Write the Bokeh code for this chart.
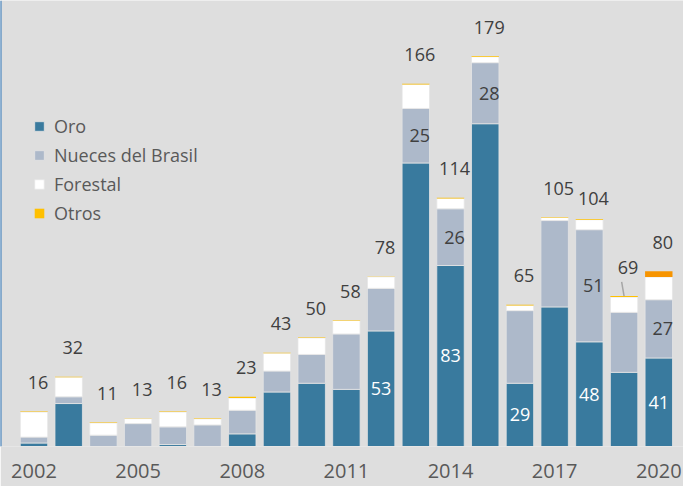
from bokeh.plotting import figure
from bokeh.models import ColumnDataSource, Legend, LegendItem, FixedTicker, Span
from bokeh.core.properties import value
from bokeh.embed import file_html
from bokeh.resources import INLINE

years = [2002, 2003, 2004, 2005, 2006, 2007, 2008, 2009, 2010, 2011,
         2012, 2013, 2014, 2015, 2016, 2017, 2018, 2019, 2020]
oro = [1.6, 19.7, 0, 0, 0.9, 0, 5.8, 25, 29, 26.2,
       53, 130, 83, 148, 29, 64, 48, 34, 40.6]
nueces = [2.7, 3.1, 5.2, 10.5, 8.1, 9.9, 10.8, 9.6, 13.2, 25.4,
          19.5, 25, 26, 28, 33.3, 39.6, 51.4, 27.5, 26.7]
forestal = [11.5, 9, 5.6, 2.3, 6.8, 2.8, 5.6, 8.2, 7.6, 6.2,
            5.3, 11, 4.7, 2.7, 2.4, 1.4, 4.6, 7, 10.4]
otros = [0.2, 0.2, 0.2, 0.2, 0.2, 0.2, 0.6, 0.2, 0.2, 0.2,
         0.2, 0.3, 0.3, 0.3, 0.3, 0.2, 0.3, 0.5, 2.6]
series_names = ["Oro", "Nueces del Brasil", "Forestal", "Otros"]
oro_labeled_years = [2012, 2014, 2016, 2018, 2020]
nueces_labeled_years = [2013, 2014, 2015, 2018, 2020]
tick_years = [2002, 2005, 2008, 2011, 2014, 2017, 2020]

# styles
C_ORO = "#397A9E"
C_NUE = "#ADB9CA"
C_FOR = "#FFFFFF"
C_OTR = "#FFC000"
C_OTR_LAST = "#F79400"
BG = "#DEDEDE"
FONT = "Open Sans"
X0, X1 = -0.965, 18.712
Y1 = 204.5

n = len(years)
xs = list(range(n))
b1 = [o for o in oro]
b2 = [o + nu for o, nu in zip(oro, nueces)]
b3 = [a + f for a, f in zip(b2, forestal)]
tot = [a + o for a, o in zip(b3, otros)]
otr_colors = [C_OTR] * (n - 1) + [C_OTR_LAST]

src = ColumnDataSource(dict(x=xs, b1=b1, b2=b2, b3=b3, tot=tot, oc=otr_colors))

p = figure(width=683, height=486, output_backend="svg", toolbar_location=None,
           x_range=(X0, X1), y_range=(0, Y1),
           min_border_left=0, min_border_right=0, min_border_top=0,
           min_border_bottom=40)
p.background_fill_color = BG
p.border_fill_color = BG
p.outline_line_color = None
p.xgrid.visible = False
p.ygrid.visible = False
p.yaxis.visible = False

W = 0.79
LC = "#E4E4E4"
r_oro = p.vbar(x="x", bottom=0, top="b1", width=W, source=src,
               fill_color=C_ORO, line_color=LC, line_width=0.8)
r_nue = p.vbar(x="x", bottom="b1", top="b2", width=W, source=src,
               fill_color=C_NUE, line_color=LC, line_width=0.8)
r_for = p.vbar(x="x", bottom="b2", top="b3", width=W, source=src,
               fill_color=C_FOR, line_color=LC, line_width=0.8)
r_otr = p.vbar(x="x", bottom="b3", top="tot", width=W, source=src,
               fill_color="oc", line_color=None)

# total labels
nudge = {2018: 8}
tot_src = ColumnDataSource(dict(x=xs, y=tot, t=[str(round(t)) for t in tot],
                                off=[-29 + nudge.get(yy, 0) for yy in years]))
p.text(x="x", y="y", text="t", source=tot_src, text_align="center",
       text_baseline="middle", x_offset=4, y_offset="off",
       text_font=value(FONT), text_font_size="18px", text_color="#404040")

# leader line for 2019
i19 = years.index(2019)
p.segment(x0=[xs[i19] - 0.07], y0=[tot[i19] + 6.5], x1=[xs[i19]], y1=[tot[i19]],
          line_color="#A6A6A6", line_width=1.5)

# inside labels
oi = [years.index(yy) for yy in oro_labeled_years]
p.text(x=[xs[i] for i in oi], y=[oro[i] / 2 for i in oi],
       text=[str(round(oro[i])) for i in oi], text_align="center",
       text_baseline="middle", text_font=value(FONT), text_font_size="18px",
       text_color="#FFFFFF")
ni = [years.index(yy) for yy in nueces_labeled_years]
p.text(x=[xs[i] for i in ni], y=[oro[i] + nueces[i] / 2 for i in ni],
       text=[str(round(nueces[i])) for i in ni], text_align="center",
       text_baseline="middle", x_offset=4, text_font=value(FONT),
       text_font_size="18px", text_color="#404040")

# left border line
p.add_layout(Span(location=X0, dimension="height", line_color="#2E75B6",
                  line_width=2))

# x axis
ax = p.xaxis[0]
ax.ticker = FixedTicker(ticks=[years.index(t) for t in tick_years])
ax.major_label_overrides = {years.index(t): str(t) for t in tick_years}
ax.axis_line_color = "#E6E6E6"
ax.major_tick_line_color = None
ax.minor_tick_line_color = None
ax.major_label_standoff = 11
ax.major_label_text_font = FONT
ax.major_label_text_font_size = "20px"
ax.major_label_text_color = "#595959"

legend = Legend(items=[LegendItem(label=series_names[0], renderers=[r_oro]),
                       LegendItem(label=series_names[1], renderers=[r_nue]),
                       LegendItem(label=series_names[2], renderers=[r_for]),
                       LegendItem(label=series_names[3], renderers=[r_otr])],
                location=(33, 221), glyph_width=12, glyph_height=12,
                label_standoff=9, spacing=5, padding=0, margin=0,
                label_height=24,
                border_line_color=None, background_fill_alpha=0,
                label_text_font=FONT, label_text_font_size="18px",
                label_text_color="#595959")
p.add_layout(legend, "center")

open("out.html", "w").write(file_html(p, INLINE))
